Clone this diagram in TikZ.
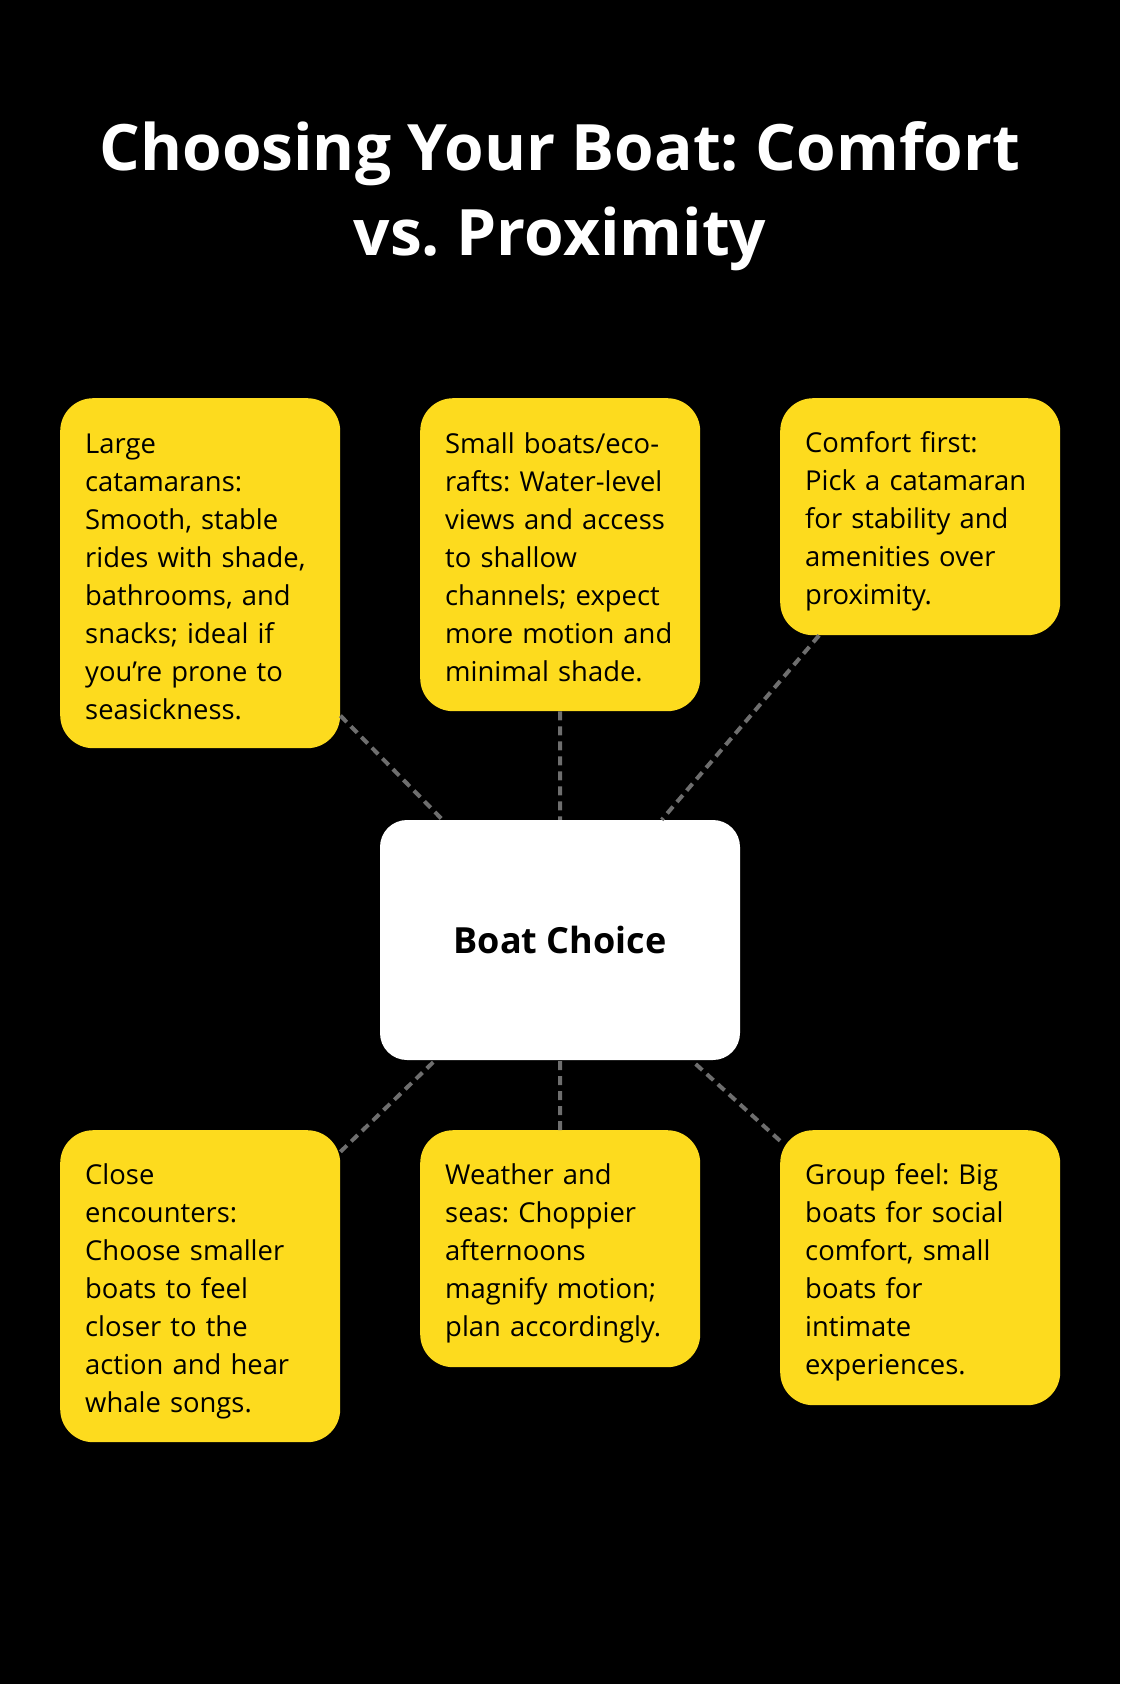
\documentclass[tikz,border=0pt]{standalone}
\usepackage{fontspec}
\setmainfont{Open Sans}
\usetikzlibrary{positioning}
\definecolor{cardyellow}{HTML}{FDDB1E}
\definecolor{linkgray}{HTML}{6E6E6E}
\frenchspacing

\begin{document}
\begin{tikzpicture}[
		x=1pt, y=-1pt,
		card/.style={rectangle, fill=cardyellow, rounded corners=33, minimum width=280, text width=230, inner xsep=25, inner ysep=0, align=left, anchor=north west, font=\fontsize{27.4}{38}\selectfont,
			execute at begin node={\rule{0pt}{31pt}}, execute at end node={\rule[-5pt]{0pt}{5pt}}},  % yellow option cards
		hub/.style={rectangle, fill=white, rounded corners=27, minimum width=360, minimum height=240, text centered, font=\fontsize{36}{44}\selectfont\bfseries},
		link/.style={draw=linkgray, line width=4, dash pattern=on 9 off 6}  % dashed connectors
		]
		% background and page size
		\fill[black] (0,0) rectangle (1120,1684);
		\useasboundingbox (0,0) rectangle (1120,1684);
		% title
		\node[text=white, align=center, font=\fontsize{64}{85}\selectfont\bfseries] (title) at (560,196) {Choosing Your Boat: Comfort\\vs. Proximity};
		% centre
		\node[hub] (choice) at (560,940) {Boat Choice};
		% upper row
		\node[card, minimum height=350] (large) at (60,398) {Large\\catamarans:\\Smooth, stable\\rides with shade,\\bathrooms, and\\snacks; ideal if\\you’re prone to\\seasickness.};
		\node[card, minimum height=313] (small) at (420,398) {Small boats/eco-\\rafts: Water-level\\views and access\\to shallow\\channels; expect\\more motion and\\minimal shade.};
		\node[card, minimum height=237] (comfort) at (780,398) {Comfort first:\\Pick a catamaran\\for stability and\\amenities over\\proximity.};
		% lower row
		\node[card, minimum height=312] (close) at (60,1130) {Close\\encounters:\\Choose smaller\\boats to feel\\closer to the\\action and hear\\whale songs.};
		\node[card, minimum height=237] (weather) at (420,1130) {Weather and\\seas: Choppier\\afternoons\\magnify motion;\\plan accordingly.};
		\node[card, minimum height=275] (group) at (780,1130) {Group feel: Big\\boats for social\\comfort, small\\boats for\\intimate\\experiences.};
		% connectors
		\draw[link] (large) -- (choice);
		\draw[link] (small) -- (choice);
		\draw[link] (comfort) -- (choice);
		\draw[link] (close) -- (choice);
		\draw[link] (weather) -- (choice);
		\draw[link] (group) -- (choice);
	\end{tikzpicture}
\end{document}
